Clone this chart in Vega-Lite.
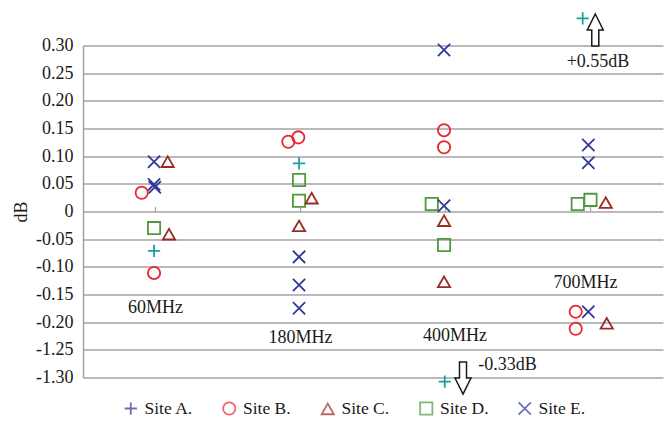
{
  "$schema": "https://vega.github.io/schema/vega-lite/v6.json",
  "width": 580,
  "height": 332,
  "autosize": {"type": "none"},
  "padding": {"left": 83, "top": 45.5, "right": 5, "bottom": 45.5},
  "background": "white",
  "config": {
    "view": {"stroke": null},
    "font": "Liberation Serif",
    "axis": {"labelFont": "Liberation Serif", "titleFont": "Liberation Serif"},
    "legend": {"labelFont": "Liberation Serif"}
  },
  "datasets": {
    "points": [
      {"freq": 1, "x": 0.99, "y": 0.090, "site": "Site E."},
      {"freq": 1, "x": 1.084, "y": 0.090, "site": "Site C."},
      {"freq": 1, "x": 0.99, "y": 0.049, "site": "Site E."},
      {"freq": 1, "x": 0.995, "y": 0.044, "site": "Site E."},
      {"freq": 1, "x": 0.905, "y": 0.034, "site": "Site B."},
      {"freq": 1, "x": 0.99, "y": -0.030, "site": "Site D."},
      {"freq": 1, "x": 1.093, "y": -0.041, "site": "Site C."},
      {"freq": 1, "x": 0.99, "y": -0.071, "site": "Site A."},
      {"freq": 1, "x": 0.99, "y": -0.111, "site": "Site B."},
      {"freq": 2, "x": 1.916, "y": 0.126, "site": "Site B."},
      {"freq": 2, "x": 1.985, "y": 0.134, "site": "Site B."},
      {"freq": 2, "x": 1.99, "y": 0.087, "site": "Site A."},
      {"freq": 2, "x": 1.99, "y": 0.057, "site": "Site D."},
      {"freq": 2, "x": 1.99, "y": 0.0195, "site": "Site D."},
      {"freq": 2, "x": 2.077, "y": 0.024, "site": "Site C."},
      {"freq": 2, "x": 1.99, "y": -0.026, "site": "Site C."},
      {"freq": 2, "x": 1.99, "y": -0.082, "site": "Site E."},
      {"freq": 2, "x": 1.99, "y": -0.133, "site": "Site E."},
      {"freq": 2, "x": 1.99, "y": -0.175, "site": "Site E."},
      {"freq": 3, "x": 2.99, "y": 0.292, "site": "Site E."},
      {"freq": 3, "x": 2.99, "y": 0.147, "site": "Site B."},
      {"freq": 3, "x": 2.99, "y": 0.116, "site": "Site B."},
      {"freq": 3, "x": 2.905, "y": 0.0136, "site": "Site D."},
      {"freq": 3, "x": 2.99, "y": 0.0105, "site": "Site E."},
      {"freq": 3, "x": 2.99, "y": -0.0166, "site": "Site C."},
      {"freq": 3, "x": 2.99, "y": -0.0605, "site": "Site D."},
      {"freq": 3, "x": 2.99, "y": -0.127, "site": "Site C."},
      {"freq": 3, "x": 2.995, "y": -0.3076, "site": "Site A."},
      {"freq": 4, "x": 3.985, "y": 0.120, "site": "Site E."},
      {"freq": 4, "x": 3.985, "y": 0.088, "site": "Site E."},
      {"freq": 4, "x": 3.912, "y": 0.0136, "site": "Site D."},
      {"freq": 4, "x": 4.0, "y": 0.021, "site": "Site D."},
      {"freq": 4, "x": 4.105, "y": 0.016, "site": "Site C."},
      {"freq": 4, "x": 3.898, "y": -0.181, "site": "Site B."},
      {"freq": 4, "x": 3.985, "y": -0.181, "site": "Site E."},
      {"freq": 4, "x": 3.898, "y": -0.212, "site": "Site B."},
      {"freq": 4, "x": 4.112, "y": -0.202, "site": "Site C."},
      {"freq": 4, "x": 3.946, "y": 0.349, "site": "Site A."}
    ],
    "freqLabels": [
      {"label": "60MHz", "x": 1.0, "y": -0.1744},
      {"label": "180MHz", "x": 2.0, "y": -0.2286},
      {"label": "400MHz", "x": 3.066, "y": -0.225},
      {"label": "700MHz", "x": 3.966, "y": -0.130}
    ],
    "notes": [
      {"label": "+0.55dB", "x": 4.052, "y": 0.270},
      {"label": "-0.33dB", "x": 3.428, "y": -0.277}
    ],
    "arrowUp": [{"x": 4.033, "y": 0.328}],
    "arrowDown": [{"x": 3.1207, "y": -0.301}],
    "ticks": [
      {"x": 1, "y": 0},
      {"x": 2, "y": 0},
      {"x": 3, "y": 0},
      {"x": 4, "y": 0}
    ]
  },
  "encoding": {
    "x": {"field": "x", "type": "quantitative", "scale": {"domain": [0.5, 4.5], "nice": false, "zero": false}, "axis": null},
    "y": {
      "field": "y", "type": "quantitative",
      "scale": {"domain": [-0.3, 0.3], "nice": false, "zero": false},
      "axis": {
        "title": "dB",
        "values": [0.3, 0.25, 0.2, 0.15, 0.1, 0.05, 0, -0.05, -0.1, -0.15, -0.2, -0.25, -0.3],
        "labelExpr": "(datum.value < 0 ? '-' : '') + (datum.value == 0 ? '0' : format(abs(datum.value) + (datum.value < -0.21 ? 1 : 0), '.2f'))",
        "labelOverlap": false,
        "grid": true, "gridColor": "#a3a3a3", "gridWidth": 1.5,
        "domain": true, "domainColor": "#a3a3a3", "domainWidth": 1.5,
        "ticks": false, "labelPadding": 10,
        "labelFont": "Liberation Serif", "labelFontSize": 18, "labelColor": "#1a1a1a",
        "titleFont": "Liberation Serif", "titleFontSize": 18, "titleFontWeight": "normal", "titleColor": "#1a1a1a",
        "titlePadding": 5
      }
    }
  },
  "layer": [
    {
      "data": {"name": "ticks"},
      "mark": {"type": "point", "filled": false, "shape": "M0,-1L0,0", "size": 81, "stroke": "#a3a3a3", "strokeWidth": 1.2, "opacity": 1}
    },
    {
      "data": {"name": "points"},
      "mark": {"type": "point", "filled": false, "strokeWidth": 1.8, "size": 0},
      "encoding": {
        "color": {
          "field": "site", "type": "nominal",
          "scale": {"domain": ["Site A.", "Site B.", "Site C.", "Site D.", "Site E."], "range": ["#2f3494", "#e8262d", "#9b2a26", "#4f9a3f", "#32379a"]},
          "legend": {
            "title": null, "orient": "none", "legendX": 39, "legendY": 354,
            "direction": "horizontal", "columns": 5, "gridAlign": "all", "columnPadding": 25.5,
            "labelFont": "Liberation Serif", "labelFontSize": 17.5, "labelFontWeight": "normal", "labelColor": "#1a1a1a", "labelOffset": 5,
            "symbolSize": 150, "symbolStrokeWidth": 1.8, "padding": 0
          }
        },
        "shape": {
          "field": "site", "type": "nominal",
          "scale": {"domain": ["Site A.", "Site B.", "Site C.", "Site D.", "Site E."], "range": ["M-1,0L1,0M0,-1L0,1", "circle", "triangle-up", "square", "M-1,-1L1,1M-1,1L1,-1"]},
          "legend": {
            "title": null, "orient": "none", "legendX": 39, "legendY": 354,
            "direction": "horizontal", "columns": 5, "gridAlign": "all", "columnPadding": 25.5,
            "labelFont": "Liberation Serif", "labelFontSize": 17.5, "labelFontWeight": "normal", "labelColor": "#1a1a1a", "labelOffset": 5,
            "symbolSize": 150, "symbolStrokeWidth": 1.8, "padding": 0
          }
        }
      }
    },
    {
      "data": {"name": "points"},
      "mark": {"type": "point", "filled": false, "strokeWidth": 1.8, "size": 150, "opacity": 1},
      "encoding": {
        "stroke": {
          "field": "site", "type": "nominal",
          "scale": {"domain": ["Site A.", "Site B.", "Site C.", "Site D.", "Site E."], "range": ["#1b9fa0", "#e8262d", "#9b2a26", "#4f9a3f", "#32379a"]},
          "legend": null
        },
        "shape": {
          "field": "site", "type": "nominal",
          "legend": null
        }
      }
    },
    {
      "data": {"name": "arrowUp"},
      "mark": {"type": "point", "filled": true, "fill": "white", "stroke": "#1a1a1a", "strokeWidth": 1.5, "size": 1024, "opacity": 1, "shape": "M0,-1L0.5,0L0.22,0L0.22,1L-0.22,1L-0.22,0L-0.5,0Z"}
    },
    {
      "data": {"name": "arrowDown"},
      "mark": {"type": "point", "filled": true, "fill": "white", "stroke": "#1a1a1a", "strokeWidth": 1.5, "size": 1024, "opacity": 1, "shape": "M0,1L0.5,0L0.22,0L0.22,-1L-0.22,-1L-0.22,0L-0.5,0Z"}
    },
    {
      "data": {"name": "freqLabels"},
      "mark": {"type": "text", "font": "Liberation Serif", "fontSize": 18, "color": "#1a1a1a", "baseline": "middle", "align": "center"},
      "encoding": {"text": {"field": "label"}}
    },
    {
      "data": {"name": "notes"},
      "mark": {"type": "text", "font": "Liberation Serif", "fontSize": 18, "color": "#1a1a1a", "baseline": "middle", "align": "center"},
      "encoding": {"text": {"field": "label"}}
    }
  ]
}
